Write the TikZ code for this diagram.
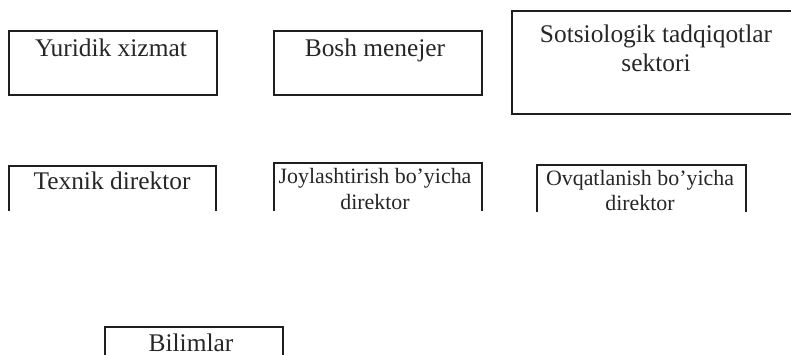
\documentclass[tikz,border=0pt]{standalone}
\usepackage{fontspec}
\setmainfont{Liberation Serif}
\begin{document}
\begin{tikzpicture}[x=1pt,y=-1pt,
  frame/.style={draw=black!88, line width=1.2pt},
  big/.style={font=\fontsize{25.4}{29}\selectfont, text=black!85, inner sep=0pt, anchor=base, align=center},
  small/.style={font=\fontsize{21.9}{25}\selectfont, text=black!85, inner sep=0pt, anchor=base, align=center}]
  \useasboundingbox (0,0) rectangle (791,355);
  \clip (0,0) rectangle (791,355);

  % upper row: closed boxes
  \draw[frame] (9,31) rectangle (217,95);
  \node[big] (yur) at (111,57) {Yuridik xizmat};
  \draw[frame] (274,31) rectangle (482,95);
  \node[big] (bosh) at (375,57) {Bosh menejer};
  \draw[frame] (512,11) rectangle (800,114);
  \node[big] (sots) at (656,72) {Sotsiologik tadqiqotlar\\sektori};

  % middle row: boxes open at the bottom
  \draw[frame] (9,211) |- (216,166) -- (216,211);
  \node[big] (tex) at (112,190) {Texnik direktor};
  \draw[frame] (274,211) |- (482,163) -- (482,211);
  \node[small] (joy) at (375,209) {Joylashtirish bo’yicha\\direktor};
  \draw[frame] (537,212) |- (746,165) -- (746,212);
  \node[small] (ovq) at (640,211) {Ovqatlanish bo’yicha\\direktor};

  % bottom box
  \draw[frame] (105,356) |- (283,327) -- (283,356);
  \node[big] (bil) at (191,351.5) {Bilimlar};
\end{tikzpicture}
\end{document}
